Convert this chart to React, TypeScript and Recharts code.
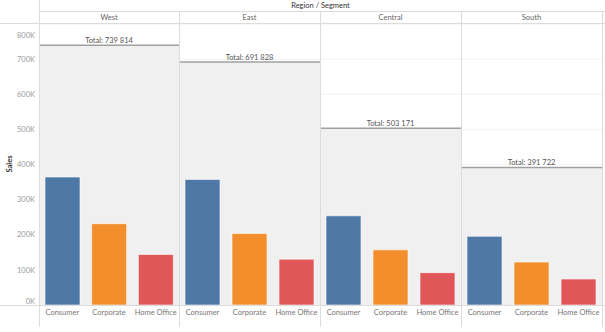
import React from 'react';
import { BarChart, Bar, Cell, XAxis, YAxis, CartesianGrid, ReferenceArea, ReferenceLine } from 'recharts';

const regions = ['West', 'East', 'Central', 'South'];
const segments = ['Consumer', 'Corporate', 'Home Office'];
const consumerSales = [364512, 357600, 254000, 195500];
const corporateSales = [231460, 203600, 157000, 122300];
const homeOfficeSales = [143842, 130628, 92171, 73922];
const regionTotals = [739814, 691828, 503171, 391722];
const salesTicks = [0, 100000, 200000, 300000, 400000, 500000, 600000, 700000, 800000];

const segmentColors = ['#4e79a7', '#f28e2b', '#e15759'];
const panelEdges = [39, 179, 320, 461, 602];
const FONT = 'Lato, "Noto Sans", sans-serif';
const FS = 7.5;
const LINE = '#dcdcdc';

const fmtK = (v: number) => `${Math.round(v / 1000)}K`;
const fmtTotal = (v: number) => String(v).replace(/\B(?=(\d{3})+(?!\d))/g, ' ');

function YTick(props: any) {
  const { x, y, payload } = props;
  let shift = 0;
  if (payload.value === 0) shift = -4;
  if (payload.value === 800000) shift = 3;
  return (
    <text x={x} y={y + shift} dy="0.355em" textAnchor="end" fill="#9a9a9a" fontSize={FS} fontFamily={FONT}>
      {fmtK(payload.value)}
    </text>
  );
}

function SalesLabel(props: any) {
  const vb = props.viewBox || {};
  const cx = 9;
  const cy = (vb.y || 0) + (vb.height || 0) / 2;
  return (
    <text x={cx} y={cy} transform={`rotate(-90 ${cx} ${cy})`} textAnchor="middle" dy="0.355em"
      fill="#333" fontSize={FS} fontWeight="bold" fontFamily={FONT}>
      Sales
    </text>
  );
}

function Panel({ index }: { index: number }) {
  const first = index === 0;
  const left = first ? 0 : panelEdges[index];
  const width = panelEdges[index + 1] - left;
  const data = segments.map((segment, i) => ({
    segment,
    sales: [consumerSales, corporateSales, homeOfficeSales][i][index],
  }));
  const total = regionTotals[index];

  return (
    <div style={{ position: 'absolute', left, top: 23 }}>
      <BarChart width={width} height={304} data={data} margin={{ top: 0, right: 0, bottom: 0, left: 0 }}>
        <CartesianGrid vertical={false} stroke="#f2f2f2" />
        <ReferenceArea y1={0} y2={total} fill="#f0f0f0" fillOpacity={1} stroke="none" />
        <ReferenceLine
          y={total}
          stroke="#a0a0a0"
          strokeWidth={1.5}
          label={{ value: `Total: ${fmtTotal(total)}`, position: 'top', offset: 2, fill: '#555', fontSize: FS, fontFamily: FONT }}
        />
        <XAxis
          dataKey="segment"
          height={22}
          axisLine={false}
          tickLine={false}
          tickSize={2}
          tickMargin={3}
          interval={0}
          tick={{ fill: '#777', fontSize: FS, fontFamily: FONT }}
        />
        <YAxis
          hide={!first}
          width={39}
          domain={[0, 803000]}
          ticks={salesTicks}
          axisLine={false}
          tickLine={false}
          tickSize={0}
          tickMargin={4}
          tick={<YTick />}
          label={first ? { content: <SalesLabel /> } : undefined}
        />
        <Bar dataKey="sales" barSize={35} stroke="#ffffff" strokeOpacity={0.6} strokeWidth={1} isAnimationActive={false}>
          {data.map((d, i) => (
            <Cell key={d.segment} fill={segmentColors[i]} />
          ))}
        </Bar>
      </BarChart>
    </div>
  );
}

const line = (left: number, top: number, width: number, height: number): React.CSSProperties => ({
  position: 'absolute', left, top, width, height, background: LINE,
});

export default function App() {
  return (
    <div style={{ position: 'absolute', left: 0, top: 0, width: 605, height: 332, background: '#fff', fontFamily: FONT, overflow: 'hidden' }}>
      <div style={{ position: 'absolute', left: panelEdges[0], width: panelEdges[4] - panelEdges[0], top: 0, height: 12, lineHeight: '12px', textAlign: 'center', fontSize: FS, color: '#333' }}>
        Region / Segment
      </div>
      {regions.map((r, i) => (
        <div key={r} style={{ position: 'absolute', left: panelEdges[i], width: panelEdges[i + 1] - panelEdges[i], top: 12, height: 11, lineHeight: '11px', textAlign: 'center', fontSize: FS, color: '#666' }}>
          {r}
        </div>
      ))}
      {regions.map((r, i) => (
        <Panel key={r} index={i} />
      ))}
      <div style={line(39, 11, 566, 1)} />
      <div style={line(0, 23, 605, 1)} />
      <div style={line(0, 305, 605, 1)} />
      <div style={line(39, 0, 1, 327)} />
      {panelEdges.slice(1).map((x) => (
        <div key={x} style={line(x, 11, 1, 316)} />
      ))}
    </div>
  );
}
